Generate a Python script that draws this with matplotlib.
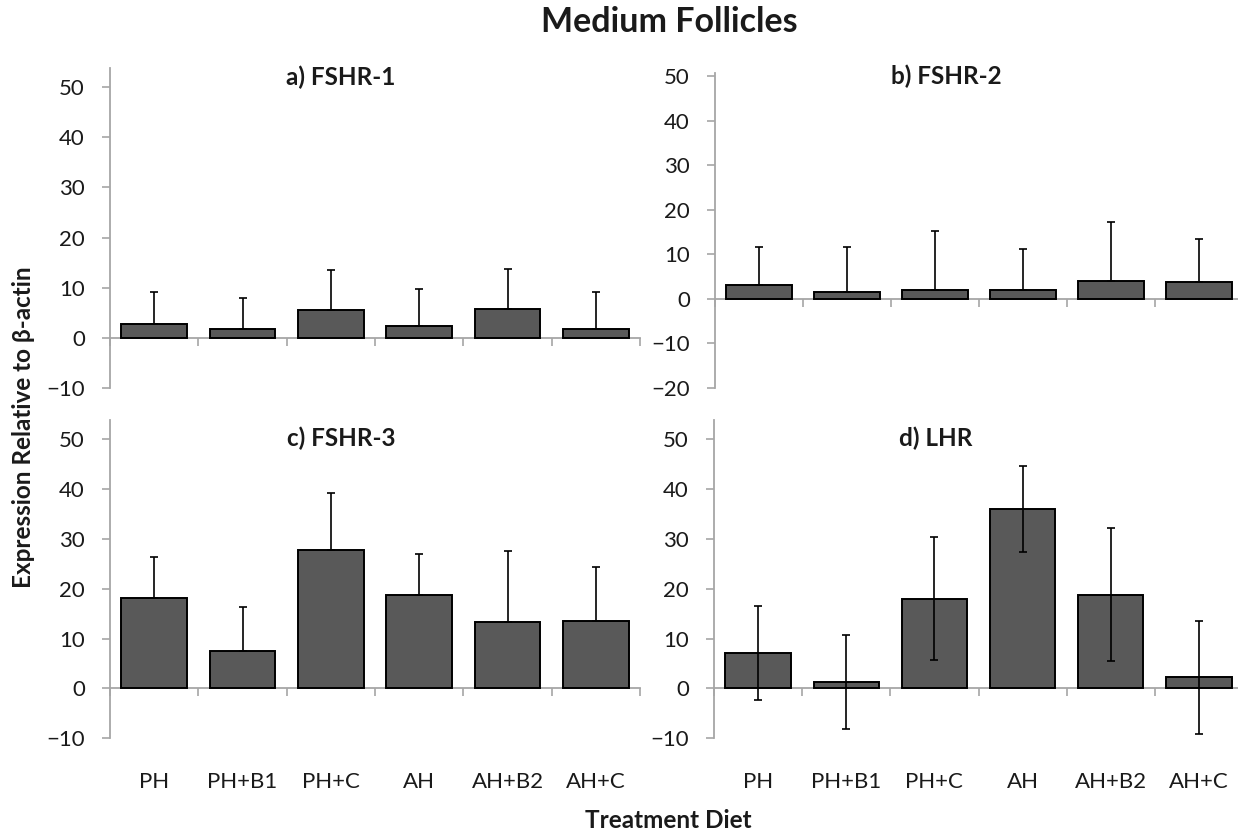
import numpy as np
import matplotlib
matplotlib.use('Agg')
import matplotlib.pyplot as plt
from matplotlib import transforms

plt.rcParams['font.family'] = ['Lato', 'DejaVu Sans']

categories = ['PH', 'PH+B1', 'PH+C', 'AH', 'AH+B2', 'AH+C']

fshr1_mean = [2.8, 1.8, 5.6, 2.4, 5.8, 1.7]
fshr1_err = [6.4, 6.2, 7.9, 7.3, 8.0, 7.5]

fshr2_mean = [3.1, 1.5, 1.9, 1.9, 4.0, 3.7]
fshr2_err = [8.6, 10.2, 13.2, 9.2, 13.3, 9.8]

fshr3_mean = [18.2, 7.4, 27.7, 18.8, 13.3, 13.5]
fshr3_err = [8.2, 9.0, 11.4, 8.1, 14.2, 10.9]

lhr_mean = [7.1, 1.3, 18.0, 36.0, 18.8, 2.2]
lhr_err = [9.5, 9.5, 12.4, 8.6, 13.4, 11.3]

W, H = 1238, 835
fig = plt.figure(figsize=(W / 100, H / 100), dpi=100)

grey = '#a6a6a6'
bar_col = '#595959'
txt = '#1a1a1a'


def px_axes(left, right, top, bottom):
    return fig.add_axes([left / W, 1 - bottom / H, (right - left) / W, (bottom - top) / H])


def panel(ax, mean, err, ymin, ymax, yticks, both_sides):
    x = np.arange(len(categories))
    mean = np.array(mean)
    err = np.array(err)
    if both_sides:
        yerr = [err, err]
    else:
        yerr = [np.zeros_like(err), err]
    ax.bar(x, mean, width=0.74, color=bar_col, edgecolor='black', linewidth=1.4, zorder=2)
    ax.errorbar(x, mean, yerr=yerr, fmt='none', ecolor='black', elinewidth=1.2,
                capsize=3.2, capthick=1.2, zorder=3)
    ax.set_xlim(-0.5, len(categories) - 0.5)
    ax.set_ylim(ymin, ymax)
    ax.set_yticks(yticks)
    for s in ['top', 'right']:
        ax.spines[s].set_visible(False)
    ax.spines['left'].set_color(grey)
    ax.spines['left'].set_linewidth(1.3)
    ax.spines['bottom'].set_color(grey)
    ax.spines['bottom'].set_linewidth(1.3)
    ax.spines['bottom'].set_position(('data', 0))
    ax.spines['bottom'].set_zorder(1)
    ax.tick_params(axis='y', direction='out', length=6, width=1.2, color=grey,
                   labelsize=16, labelcolor=txt, pad=12)
    ax.set_xticks(np.arange(-0.5, len(categories), 1.0))
    ax.set_xticklabels([])
    ax.tick_params(axis='x', direction='out', length=6, width=1.2, color=grey)


ax_a = px_axes(110, 640, 67.7, 388)
panel(ax_a, fshr1_mean, fshr1_err, -10, 53.9, [-10, 0, 10, 20, 30, 40, 50], False)

ax_b = px_axes(715, 1243, 73, 387.7)
panel(ax_b, fshr2_mean, fshr2_err, -20, 50.7, [-20, -10, 0, 10, 20, 30, 40, 50], False)

ax_c = px_axes(110, 640, 420, 738.3)
panel(ax_c, fshr3_mean, fshr3_err, -10, 53.8, [-10, 0, 10, 20, 30, 40, 50], False)

ax_d = px_axes(714, 1243, 420, 738.3)
panel(ax_d, lhr_mean, lhr_err, -10, 53.8, [-10, 0, 10, 20, 30, 40, 50], True)

# category labels under the lower panels
for ax in (ax_c, ax_d):
    tr = transforms.blended_transform_factory(ax.transData, fig.transFigure)
    for i, c in enumerate(categories):
        ax.text(i, 1 - 788 / H, c, transform=tr, ha='center', va='baseline',
                fontsize=16, color=txt)

# panel titles
fig.text(341 / W, 1 - 77 / H, 'a) FSHR-1', ha='center', va='center', fontsize=17.5, fontweight='bold', color=txt)
fig.text(946 / W, 1 - 76 / H, 'b) FSHR-2', ha='center', va='center', fontsize=17.5, fontweight='bold', color=txt)
fig.text(341 / W, 1 - 438 / H, 'c) FSHR-3', ha='center', va='center', fontsize=17.5, fontweight='bold', color=txt)
fig.text(936 / W, 1 - 438 / H, 'd) LHR', ha='center', va='center', fontsize=17.5, fontweight='bold', color=txt)

fig.text(669 / W, 1 - 22 / H, 'Medium Follicles', ha='center', va='center', fontsize=24.5, fontweight='bold', color=txt)
fig.text(24 / W, 1 - 427 / H, 'Expression Relative to β-actin', ha='center', va='center',
         rotation=90, fontsize=17.5, fontweight='bold', color=txt)
fig.text(668 / W, 1 - 821 / H, 'Treatment Diet', ha='center', va='center', fontsize=17.5, fontweight='bold', color=txt)

fig.savefig('out.png', dpi=100)
